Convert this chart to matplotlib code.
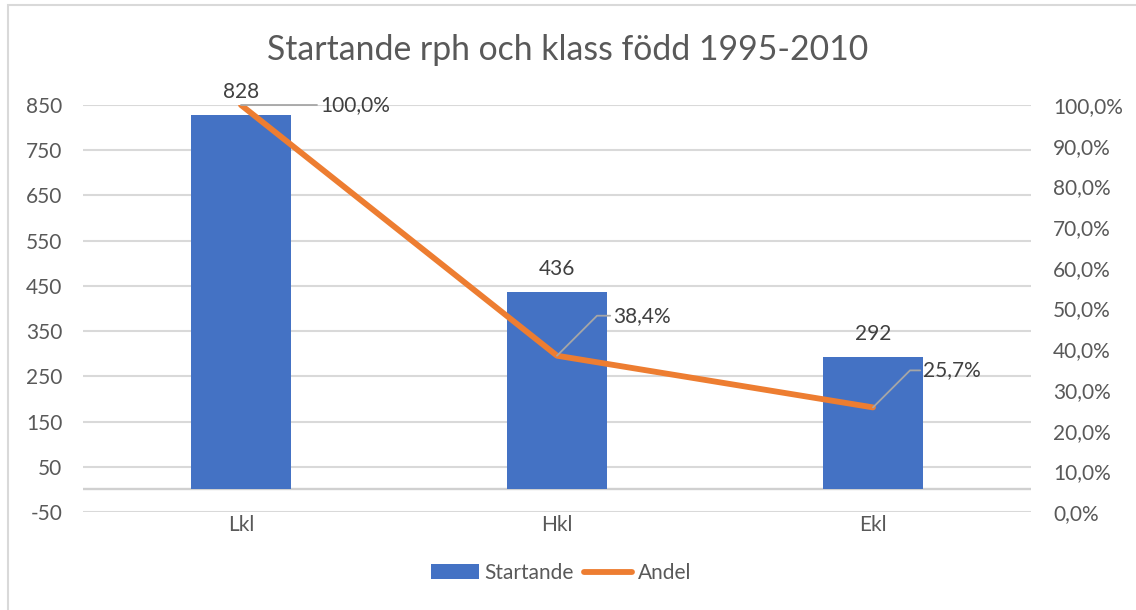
import matplotlib
matplotlib.use("Agg")
import matplotlib.pyplot as plt
from matplotlib.patches import Rectangle
from matplotlib.ticker import FuncFormatter

plt.rcParams['font.family'] = ['Lato', 'DejaVu Sans']
plt.rcParams['axes.unicode_minus'] = False

categories = ["Lkl", "Hkl", "Ekl"]
startande = [828, 436, 292]
andel = [1.000, 0.384, 0.257]
left_ticks = [-50, 50, 150, 250, 350, 450, 550, 650, 750, 850]
right_ticks = [0.0, 0.1, 0.2, 0.3, 0.4, 0.5, 0.6, 0.7, 0.8, 0.9, 1.0]
title = "Startande rph och klass född 1995-2010"

BLUE = "#4472C4"
ORANGE = "#ED7D31"
GRID = "#d9d9d9"
TXT = "#595959"
LBL = "#404040"

fig = plt.figure(figsize=(11.36, 6.10), dpi=100)
ax = fig.add_axes([83/1136, 1-512/610, (1031-83)/1136, (512-105)/610])
ax2 = ax.twinx()

x = list(range(len(categories)))
bars = ax.bar(x, startande, width=0.315, color=BLUE, zorder=2, label="Startande")
ax.set_xlim(-0.5, len(categories) - 0.5)
ax.set_ylim(left_ticks[0], left_ticks[-1])
ax.set_yticks(left_ticks)
ax.set_xticks(x)
ax.set_xticklabels(categories)
ax.grid(axis='y', color=GRID, lw=1.5, zorder=0)
ax.axhline(0, color="#d0d0d0", lw=1.7, zorder=1)
for s in ax.spines.values():
    s.set_visible(False)
for s in ax2.spines.values():
    s.set_visible(False)
ax.tick_params(axis='both', length=0, labelsize=15, labelcolor=TXT)
ax.tick_params(axis='y', pad=15)
ax.tick_params(axis='x', pad=2)

for xi, v in zip(x, startande):
    ax.annotate(f"{v}", (xi, v), xytext=(0, 13), textcoords='offset pixels',
                ha='center', va='bottom', fontsize=15, color=LBL)

line, = ax2.plot(x, andel, color=ORANGE, lw=4.2, solid_capstyle='round', zorder=3, label="Andel")
ax2.set_ylim(right_ticks[0], right_ticks[-1])
ax2.set_yticks(right_ticks)
ax2.yaxis.set_major_formatter(FuncFormatter(lambda v, p: f"{v*100:.1f}%".replace('.', ',')))
ax2.tick_params(axis='y', length=0, labelsize=15, labelcolor=TXT, pad=16)

offsets = [(79, 0), (56, 40), (50, 37)]
for xi, v, (dx, dy) in zip(x, andel, offsets):
    ax2.annotate(f"{v*100:.1f}%".replace('.', ','), (xi, v), xytext=(dx, dy),
                 textcoords='offset pixels', ha='left', va='center', fontsize=15, color=LBL,
                 arrowprops=dict(arrowstyle='-', color='#a6a6a6', lw=1.3, shrinkA=0, shrinkB=0,
                                 relpos=(0, 0.5),
                                 connectionstyle='angle,angleA=0,angleB=45,rad=0'),
                 zorder=4)

fig.text(0.5, 1-50/610, title, ha='center', va='center', fontsize=24.3, color=TXT)

fig.legend(handles=[bars, line], labels=["Startande", "Andel"], loc='center',
           bbox_to_anchor=(0.494, 1-573/610), ncol=2, frameon=False, fontsize=15,
           handlelength=2.3, handleheight=0.7, handletextpad=0.25, columnspacing=0.5,
           labelcolor=TXT)

fig.patches.append(Rectangle((8/1136, -0.1), 1.2, 1.1 - 5/610, transform=fig.transFigure,
                             fill=False, edgecolor=GRID, lw=1.5))

fig.savefig("out.png", dpi=100)
